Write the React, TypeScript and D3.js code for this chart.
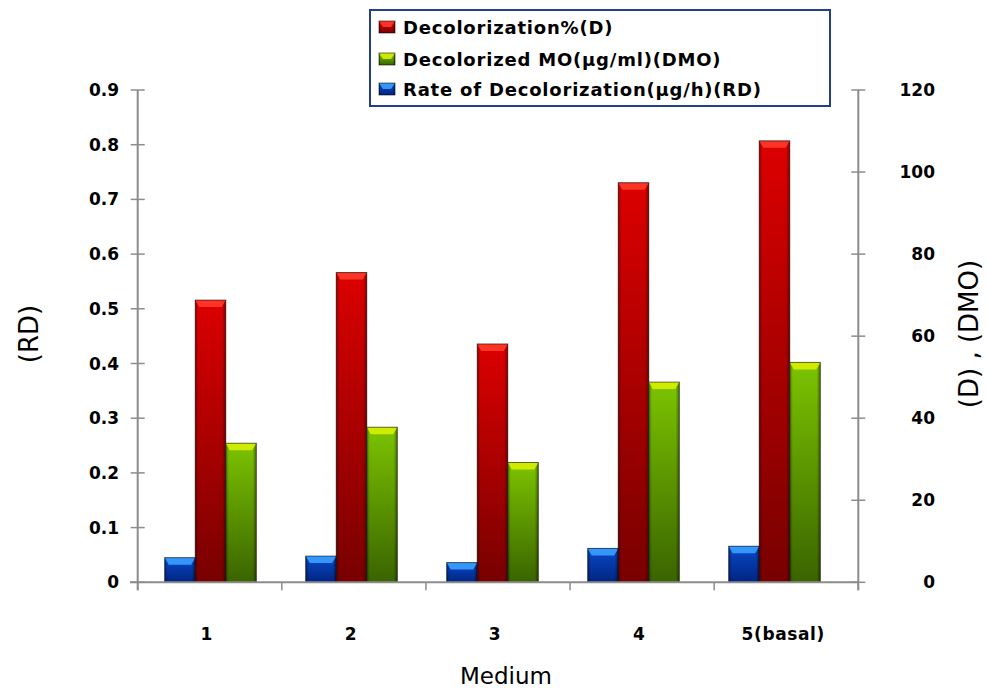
import React from "react";
import * as d3 from "d3";

const categories = ["1", "2", "3", "4", "5(basal)"];
const seriesKeys = ["RD", "D", "DMO"];
const rdValues = [0.045, 0.048, 0.036, 0.062, 0.066];
const dValues = [68.8, 75.5, 58.1, 97.4, 107.6];
const dmoValues = [33.9, 37.8, 29.2, 48.8, 53.6];
const leftTicks = [0, 0.1, 0.2, 0.3, 0.4, 0.5, 0.6, 0.7, 0.8, 0.9];
const rightTicks = [0, 20, 40, 60, 80, 100, 120];
const legendLabels = [
  "Decolorization%(D)",
  "Decolorized MO(µg/ml)(DMO)",
  "Rate of Decolorization(µg/h)(RD)",
];
const legendKeys = ["D", "DMO", "RD"];

const W = 988;
const H = 688;
const baseY = 582.3;
const topY = 90;
const xL = 137.7;
const xR = 858.3;

const styles: Record<string, { top: string; bot: string; bevel: string }> = {
  D: { top: "#dc0000", bot: "#780000", bevel: "#ff3a2a" },
  DMO: { top: "#7cc400", bot: "#3a6400", bevel: "#d8f000" },
  RD: { top: "#0a48c8", bot: "#002580", bevel: "#3aa0ff" },
};

function Bar({ x, y, w, h, k }: { x: number; y: number; w: number; h: number; k: string }) {
  const bv = Math.min(7, h / 2);
  return (
    <g>
      <rect x={x} y={y} width={w} height={h} fill={`url(#grad-${k})`} />
      <rect x={x} y={y} width={w} height={h} fill="url(#edge)" />
      <polygon
        points={`${x},${y} ${x + w},${y} ${x + w - 4},${y + bv} ${x + 4},${y + bv}`}
        fill={styles[k].bevel}
        opacity={0.9}
      />
      <rect x={x} y={y} width={w} height={h} fill="none" stroke="rgba(0,0,0,0.55)" strokeWidth={1} />
    </g>
  );
}

export default function App() {
  const yLeft = d3.scaleLinear().domain([0, 0.9]).range([baseY, topY]);
  const yRight = d3.scaleLinear().domain([0, 120]).range([baseY, topY]);
  const xAxis = d3.scaleBand<string>().domain(categories).range([xL, xR]);
  const xBars = d3
    .scaleBand<string>()
    .domain(categories)
    .range([140, 845])
    .paddingInner(0.35)
    .paddingOuter(0.175);
  const xSeries = d3.scaleBand<string>().domain(seriesKeys).range([0, xBars.bandwidth()]);

  const boundaries = categories.map((c) => xAxis(c)!).concat([xR]);
  const font = "'DejaVu Sans', Verdana, sans-serif";

  const bars: React.ReactNode[] = [];
  categories.forEach((c, i) => {
    const gx = xBars(c)!;
    const vals: Record<string, number> = {
      RD: yLeft(rdValues[i]),
      D: yRight(dValues[i]),
      DMO: yRight(dmoValues[i]),
    };
    seriesKeys.forEach((k) => {
      const y = vals[k];
      bars.push(
        <Bar key={c + k} x={gx + xSeries(k)!} y={y} w={xSeries.bandwidth()} h={baseY - y} k={k} />
      );
    });
  });

  return (
    <svg
      width={W}
      height={H}
      style={{ position: "absolute", left: 0, top: 0, background: "#fff" }}
      fontFamily={font}
    >
      <defs>
        {seriesKeys.map((k) => (
          <linearGradient key={k} id={`grad-${k}`} x1="0" y1="0" x2="0" y2="1">
            <stop offset="0" stopColor={styles[k].top} />
            <stop offset="1" stopColor={styles[k].bot} />
          </linearGradient>
        ))}
        <linearGradient id="edge" x1="0" y1="0" x2="1" y2="0">
          <stop offset="0" stopColor="#000" stopOpacity={0.35} />
          <stop offset="0.1" stopColor="#000" stopOpacity={0} />
          <stop offset="0.88" stopColor="#000" stopOpacity={0} />
          <stop offset="1" stopColor="#000" stopOpacity={0.4} />
        </linearGradient>
      </defs>

      {bars}

      {/* x axis */}
      <line x1={130} x2={xR} y1={baseY} y2={baseY} stroke="#8c8c8c" strokeWidth={2} />
      {boundaries.map((b, i) => (
        <line key={i} x1={b} x2={b} y1={baseY} y2={baseY + 8} stroke="#8c8c8c" strokeWidth={1.5} />
      ))}
      {categories.map((c) => (
        <text
          key={c}
          x={xAxis(c)! + xAxis.bandwidth() / 2 - 3}
          y={640}
          textAnchor="middle"
          fontSize={17}
          fontWeight="bold"
          letterSpacing={0.6}
        >
          {c}
        </text>
      ))}

      {/* left axis */}
      <line x1={xL} x2={xL} y1={topY} y2={baseY + 8} stroke="#8c8c8c" strokeWidth={2} />
      {leftTicks.map((t) => (
        <g key={t}>
          <line x1={xL - 7} x2={xL + 7} y1={yLeft(t)} y2={yLeft(t)} stroke="#8c8c8c" strokeWidth={1.5} />
          <text x={119} y={yLeft(t) + 6} textAnchor="end" fontSize={17} fontWeight="bold">
            {t === 0 ? "0" : t.toFixed(1)}
          </text>
        </g>
      ))}

      {/* right axis */}
      <line x1={xR} x2={xR} y1={topY} y2={baseY + 8} stroke="#8c8c8c" strokeWidth={2} />
      {rightTicks.map((t) => (
        <g key={t}>
          <line x1={xR - 7} x2={xR + 7} y1={yRight(t)} y2={yRight(t)} stroke="#8c8c8c" strokeWidth={1.5} />
          <text x={935} y={yRight(t) + 6} textAnchor="end" fontSize={17} fontWeight="bold">
            {t}
          </text>
        </g>
      ))}

      {/* axis titles */}
      <text transform={`translate(38,${334}) rotate(-90)`} textAnchor="middle" fontSize={26}>
        (RD)
      </text>
      <text transform={`translate(978,${334}) rotate(-90)`} textAnchor="middle" fontSize={26}>
        (D) , (DMO)
      </text>
      <text x={506} y={684} textAnchor="middle" fontSize={23}>
        Medium
      </text>

      {/* legend */}
      <rect x={370} y={10} width={460} height={96} fill="#fff" stroke="#233f85" strokeWidth={2} />
      {legendKeys.map((k, i) => {
        const cy = [27, 59, 89][i];
        return (
          <g key={k}>
            <Bar x={379} y={cy - 6} w={16} h={12} k={k} />
            <text x={403} y={cy + 7} fontSize={18} fontWeight="bold" letterSpacing={0.8}>
              {legendLabels[i]}
            </text>
          </g>
        );
      })}
    </svg>
  );
}
